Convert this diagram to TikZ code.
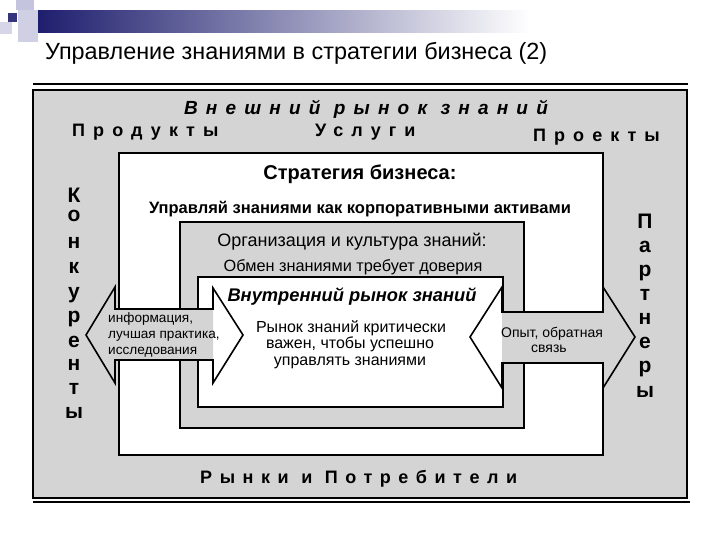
\documentclass[tikz,border=0pt]{standalone}
\usepackage{fontspec}
\setmainfont{Liberation Sans}
\definecolor{bgray}{HTML}{D4D4D4}
\definecolor{navy}{HTML}{1E1E6E}
\definecolor{lav}{HTML}{C4C4DE}
\begin{document}
\begin{tikzpicture}[x=1pt,y=-1pt,line join=miter,
  boxline/.style={draw=black,line width=1.6pt},
  frameline/.style={line width=2.6pt},
  spaced/.style={inner sep=0pt,font=\fontsize{18}{20}\selectfont\bfseries\addfontfeature{LetterSpace=45}},
  vlet/.style={inner sep=0pt,anchor=base,font=\fontsize{21}{22}\selectfont\bfseries},
  txt/.style={inner sep=0pt,anchor=base},
  small/.style={inner sep=0pt,anchor=base west,font=\fontsize{13.6}{16}\selectfont}]
\useasboundingbox (0,0) rectangle (720,540);
\fill[white] (0,0) rectangle (720,540);
% header decoration
\fill[lav] (16,0) rectangle (34,10);
\fill[lav!80] (18,10) rectangle (38,42);
\fill[navy!90] (8,13) rectangle (17,22);
\fill[lav!70] (0,22) rectangle (12,34);
\shade[left color=navy,right color=white] (38,11) rectangle (530,33);
\node[txt,anchor=base west,font=\fontsize{23.4}{26}\selectfont] (title) at (45,60) {Управление знаниями в стратегии бизнеса (2)};
% frame
\draw[frameline] (33,84) -- (688,84);
\draw[frameline] (33,502) -- (690,502);
% boxes
\draw[boxline,fill=bgray] (33,90) rectangle (687,498);
\draw[boxline,fill=white] (119,153) rectangle (603,455);
\draw[boxline,fill=bgray] (180,222) rectangle (524,428);
\draw[boxline,fill=white] (198,277) rectangle (503,407);
% left double arrow
\fill[bgray] (86,335) -- (115,287) -- (115,309) -- (213,309) -- (213,360) -- (115,360) -- (115,383) -- cycle;
\draw[boxline] (86,335) -- (115,287) -- (115,309) -- (213,309) -- (213,288) -- (243,335) -- (213,383) -- (213,360) -- (115,360) -- (115,383) -- cycle;
% right double arrow
\fill[bgray] (502,312) -- (603,312) -- (603,287) -- (635,337) -- (603,388) -- (603,363) -- (502,363) -- cycle;
\draw[boxline] (470,337) -- (502,287) -- (502,312) -- (603,312) -- (603,287) -- (635,337) -- (603,388) -- (603,363) -- (502,363) -- (502,388) -- cycle;
% outer texts
\node[txt,font=\fontsize{19}{21}\selectfont\bfseries\itshape\addfontfeature{LetterSpace=43}] (ext) at (366,115) {Внешний рынок знаний};
\node[spaced,anchor=base west] (prod) at (72,137) {Продукты};
\node[spaced,anchor=base west] (usl) at (315,137) {Услуги};
\node[spaced,anchor=base east] (proj) at (660,142) {Проекты};
\node[spaced,anchor=base west,font=\fontsize{18}{20}\selectfont\bfseries\addfontfeature{LetterSpace=42}] (rynki) at (200,483) {Рынки и Потребители};
\foreach \l/\y [count=\i] in {К/203,о/222,н/248,к/273,у/298,р/322,е/347,н/370,т/394,ы/418}
  \node[vlet] (kon\i) at (74,\y) {\l};
\foreach \l/\y [count=\i] in {П/229,а/252,р/276,т/300,н/324,е/348,р/372,ы/397}
  \node[vlet] (par\i) at (645,\y) {\l};
% inner texts
\node[txt,font=\fontsize{20}{22}\selectfont\bfseries] (strat) at (360,180) {Стратегия бизнеса:};
\node[txt,font=\fontsize{16.5}{18}\selectfont\bfseries] (manage) at (360,214) {Управляй знаниями как корпоративными активами};
\node[txt,font=\fontsize{18}{20}\selectfont] (org) at (352,246) {Организация и культура знаний:};
\node[txt,font=\fontsize{16.3}{18}\selectfont] (trust) at (353,271) {Обмен знаниями требует доверия};
\node[txt,font=\fontsize{18.3}{21}\selectfont\bfseries\itshape] (inner) at (352,301) {Внутренний рынок знаний};
\node[txt,font=\fontsize{16}{18}\selectfont] (c1) at (351,332) {Рынок знаний критически};
\node[txt,font=\fontsize{16}{18}\selectfont] (c2) at (350,348) {важен, чтобы успешно};
\node[txt,font=\fontsize{16}{18}\selectfont] (c3) at (350,365) {управлять знаниями};
\node[small] (l1) at (108,322) {информация,};
\node[small] (l2) at (108,338) {лучшая практика,};
\node[small] (l3) at (108,354) {исследования};
\node[txt,font=\fontsize{14}{16}\selectfont] (r1) at (552,337) {Опыт, обратная};
\node[txt,font=\fontsize{14}{16}\selectfont] (r2) at (549,352) {связь};
\end{tikzpicture}
\end{document}
